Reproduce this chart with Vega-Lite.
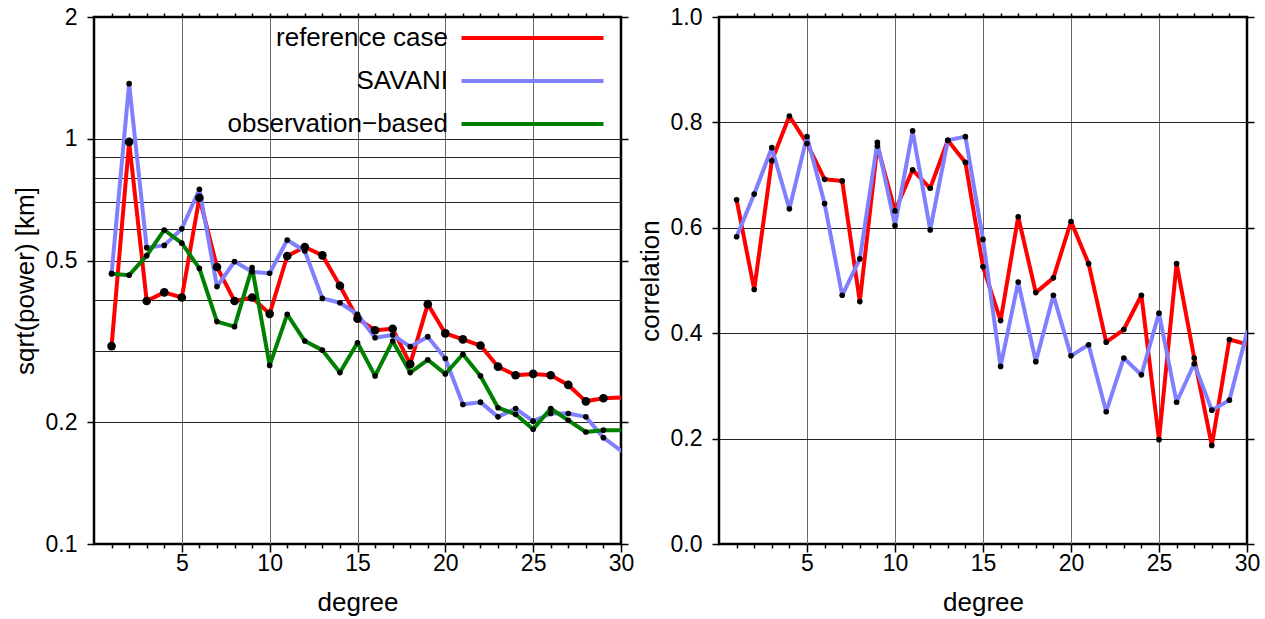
{
  "$schema": "https://vega.github.io/schema/vega-lite/v6.json",
  "padding": {"left": 10, "top": 4, "right": 5, "bottom": 5},
  "background": "white",
  "spacing": -1,
  "config": {
    "view": {"stroke": "black", "strokeWidth": 2.5},
    "axis": {
      "labelFont": "Liberation Sans", "labelFontSize": 23, "labelColor": "black",
      "titleFont": "Liberation Sans", "titleFontSize": 26, "titleFontWeight": "normal", "titleColor": "black",
      "domain": false, "tickColor": "black", "tickWidth": 1.5, "labelOverlap": false, "labelBound": false, "labelFlush": false
    }
  },
  "resolve": {"scale": {"color": "independent"}, "legend": {"color": "independent"}},
  "datasets": {
    "power": [
      {"degree": 1, "series": "reference case", "value": 0.308},
      {"degree": 2, "series": "reference case", "value": 0.983},
      {"degree": 3, "series": "reference case", "value": 0.398},
      {"degree": 4, "series": "reference case", "value": 0.418},
      {"degree": 5, "series": "reference case", "value": 0.406},
      {"degree": 6, "series": "reference case", "value": 0.716},
      {"degree": 7, "series": "reference case", "value": 0.483},
      {"degree": 8, "series": "reference case", "value": 0.398},
      {"degree": 9, "series": "reference case", "value": 0.406},
      {"degree": 10, "series": "reference case", "value": 0.370},
      {"degree": 11, "series": "reference case", "value": 0.514},
      {"degree": 12, "series": "reference case", "value": 0.541},
      {"degree": 13, "series": "reference case", "value": 0.516},
      {"degree": 14, "series": "reference case", "value": 0.434},
      {"degree": 15, "series": "reference case", "value": 0.360},
      {"degree": 16, "series": "reference case", "value": 0.337},
      {"degree": 17, "series": "reference case", "value": 0.340},
      {"degree": 18, "series": "reference case", "value": 0.278},
      {"degree": 19, "series": "reference case", "value": 0.391},
      {"degree": 20, "series": "reference case", "value": 0.331},
      {"degree": 21, "series": "reference case", "value": 0.320},
      {"degree": 22, "series": "reference case", "value": 0.309},
      {"degree": 23, "series": "reference case", "value": 0.274},
      {"degree": 24, "series": "reference case", "value": 0.261},
      {"degree": 25, "series": "reference case", "value": 0.263},
      {"degree": 26, "series": "reference case", "value": 0.261},
      {"degree": 27, "series": "reference case", "value": 0.247},
      {"degree": 28, "series": "reference case", "value": 0.225},
      {"degree": 29, "series": "reference case", "value": 0.229},
      {"degree": 30, "series": "reference case", "value": 0.230},
      {"degree": 1, "series": "SAVANI", "value": 0.465},
      {"degree": 2, "series": "SAVANI", "value": 1.369},
      {"degree": 3, "series": "SAVANI", "value": 0.539},
      {"degree": 4, "series": "SAVANI", "value": 0.546},
      {"degree": 5, "series": "SAVANI", "value": 0.600},
      {"degree": 6, "series": "SAVANI", "value": 0.751},
      {"degree": 7, "series": "SAVANI", "value": 0.432},
      {"degree": 8, "series": "SAVANI", "value": 0.498},
      {"degree": 9, "series": "SAVANI", "value": 0.470},
      {"degree": 10, "series": "SAVANI", "value": 0.466},
      {"degree": 11, "series": "SAVANI", "value": 0.563},
      {"degree": 12, "series": "SAVANI", "value": 0.529},
      {"degree": 13, "series": "SAVANI", "value": 0.404},
      {"degree": 14, "series": "SAVANI", "value": 0.394},
      {"degree": 15, "series": "SAVANI", "value": 0.369},
      {"degree": 16, "series": "SAVANI", "value": 0.323},
      {"degree": 17, "series": "SAVANI", "value": 0.328},
      {"degree": 18, "series": "SAVANI", "value": 0.307},
      {"degree": 19, "series": "SAVANI", "value": 0.325},
      {"degree": 20, "series": "SAVANI", "value": 0.287},
      {"degree": 21, "series": "SAVANI", "value": 0.221},
      {"degree": 22, "series": "SAVANI", "value": 0.224},
      {"degree": 23, "series": "SAVANI", "value": 0.206},
      {"degree": 24, "series": "SAVANI", "value": 0.216},
      {"degree": 25, "series": "SAVANI", "value": 0.201},
      {"degree": 26, "series": "SAVANI", "value": 0.210},
      {"degree": 27, "series": "SAVANI", "value": 0.210},
      {"degree": 28, "series": "SAVANI", "value": 0.206},
      {"degree": 29, "series": "SAVANI", "value": 0.183},
      {"degree": 30, "series": "SAVANI", "value": 0.170},
      {"degree": 1, "series": "observation−based", "value": 0.465},
      {"degree": 2, "series": "observation−based", "value": 0.461},
      {"degree": 3, "series": "observation−based", "value": 0.515},
      {"degree": 4, "series": "observation−based", "value": 0.596},
      {"degree": 5, "series": "observation−based", "value": 0.553},
      {"degree": 6, "series": "observation−based", "value": 0.479},
      {"degree": 7, "series": "observation−based", "value": 0.354},
      {"degree": 8, "series": "observation−based", "value": 0.344},
      {"degree": 9, "series": "observation−based", "value": 0.481},
      {"degree": 10, "series": "observation−based", "value": 0.276},
      {"degree": 11, "series": "observation−based", "value": 0.369},
      {"degree": 12, "series": "observation−based", "value": 0.317},
      {"degree": 13, "series": "observation−based", "value": 0.301},
      {"degree": 14, "series": "observation−based", "value": 0.265},
      {"degree": 15, "series": "observation−based", "value": 0.314},
      {"degree": 16, "series": "observation−based", "value": 0.260},
      {"degree": 17, "series": "observation−based", "value": 0.317},
      {"degree": 18, "series": "observation−based", "value": 0.265},
      {"degree": 19, "series": "observation−based", "value": 0.285},
      {"degree": 20, "series": "observation−based", "value": 0.263},
      {"degree": 21, "series": "observation−based", "value": 0.294},
      {"degree": 22, "series": "observation−based", "value": 0.260},
      {"degree": 23, "series": "observation−based", "value": 0.217},
      {"degree": 24, "series": "observation−based", "value": 0.209},
      {"degree": 25, "series": "observation−based", "value": 0.192},
      {"degree": 26, "series": "observation−based", "value": 0.216},
      {"degree": 27, "series": "observation−based", "value": 0.202},
      {"degree": 28, "series": "observation−based", "value": 0.189},
      {"degree": 29, "series": "observation−based", "value": 0.191},
      {"degree": 30, "series": "observation−based", "value": 0.191}
    ],
    "corr": [
      {"degree": 1, "series": "reference case", "value": 0.653},
      {"degree": 2, "series": "reference case", "value": 0.483},
      {"degree": 3, "series": "reference case", "value": 0.727},
      {"degree": 4, "series": "reference case", "value": 0.812},
      {"degree": 5, "series": "reference case", "value": 0.760},
      {"degree": 6, "series": "reference case", "value": 0.692},
      {"degree": 7, "series": "reference case", "value": 0.689},
      {"degree": 8, "series": "reference case", "value": 0.460},
      {"degree": 9, "series": "reference case", "value": 0.755},
      {"degree": 10, "series": "reference case", "value": 0.632},
      {"degree": 11, "series": "reference case", "value": 0.710},
      {"degree": 12, "series": "reference case", "value": 0.675},
      {"degree": 13, "series": "reference case", "value": 0.766},
      {"degree": 14, "series": "reference case", "value": 0.724},
      {"degree": 15, "series": "reference case", "value": 0.526},
      {"degree": 16, "series": "reference case", "value": 0.424},
      {"degree": 17, "series": "reference case", "value": 0.621},
      {"degree": 18, "series": "reference case", "value": 0.477},
      {"degree": 19, "series": "reference case", "value": 0.505},
      {"degree": 20, "series": "reference case", "value": 0.612},
      {"degree": 21, "series": "reference case", "value": 0.532},
      {"degree": 22, "series": "reference case", "value": 0.383},
      {"degree": 23, "series": "reference case", "value": 0.407},
      {"degree": 24, "series": "reference case", "value": 0.472},
      {"degree": 25, "series": "reference case", "value": 0.198},
      {"degree": 26, "series": "reference case", "value": 0.532},
      {"degree": 27, "series": "reference case", "value": 0.353},
      {"degree": 28, "series": "reference case", "value": 0.187},
      {"degree": 29, "series": "reference case", "value": 0.388},
      {"degree": 30, "series": "reference case", "value": 0.379},
      {"degree": 1, "series": "SAVANI", "value": 0.583},
      {"degree": 2, "series": "SAVANI", "value": 0.664},
      {"degree": 3, "series": "SAVANI", "value": 0.752},
      {"degree": 4, "series": "SAVANI", "value": 0.636},
      {"degree": 5, "series": "SAVANI", "value": 0.773},
      {"degree": 6, "series": "SAVANI", "value": 0.646},
      {"degree": 7, "series": "SAVANI", "value": 0.472},
      {"degree": 8, "series": "SAVANI", "value": 0.541},
      {"degree": 9, "series": "SAVANI", "value": 0.762},
      {"degree": 10, "series": "SAVANI", "value": 0.604},
      {"degree": 11, "series": "SAVANI", "value": 0.784},
      {"degree": 12, "series": "SAVANI", "value": 0.596},
      {"degree": 13, "series": "SAVANI", "value": 0.766},
      {"degree": 14, "series": "SAVANI", "value": 0.773},
      {"degree": 15, "series": "SAVANI", "value": 0.578},
      {"degree": 16, "series": "SAVANI", "value": 0.337},
      {"degree": 17, "series": "SAVANI", "value": 0.497},
      {"degree": 18, "series": "SAVANI", "value": 0.346},
      {"degree": 19, "series": "SAVANI", "value": 0.472},
      {"degree": 20, "series": "SAVANI", "value": 0.357},
      {"degree": 21, "series": "SAVANI", "value": 0.378},
      {"degree": 22, "series": "SAVANI", "value": 0.251},
      {"degree": 23, "series": "SAVANI", "value": 0.353},
      {"degree": 24, "series": "SAVANI", "value": 0.321},
      {"degree": 25, "series": "SAVANI", "value": 0.438},
      {"degree": 26, "series": "SAVANI", "value": 0.269},
      {"degree": 27, "series": "SAVANI", "value": 0.342},
      {"degree": 28, "series": "SAVANI", "value": 0.254},
      {"degree": 29, "series": "SAVANI", "value": 0.273},
      {"degree": 30, "series": "SAVANI", "value": 0.402}
    ]
  },
  "hconcat": [
    {
      "width": 527, "height": 527,
      "data": {"name": "power"},
      "layer": [
        {
          "mark": {"type": "line", "strokeWidth": 4, "clip": true, "strokeJoin": "round", "strokeCap": "round"},
          "encoding": {
            "x": {"field": "degree", "type": "quantitative", "scale": {"domain": [0, 30], "nice": false},
              "axis": {"orient": "bottom", "title": "degree", "titlePadding": 14,
                "values": [1,2,3,4,5,6,7,8,9,10,11,12,13,14,15,16,17,18,19,20,21,22,23,24,25,26,27,28,29,30],
                "labelExpr": "datum.value % 5 === 0 ? datum.label : ''", "labelPadding": 0,
                "tickSize": {"condition": {"test": "datum.value % 5 === 0", "value": 8}, "value": 4},
                "grid": true, "gridColor": "#666", "gridWidth": 1,
                "gridOpacity": {"condition": {"test": "datum.value % 5 === 0 && datum.value < 30", "value": 1}, "value": 0}}},
            "y": {"field": "value", "type": "quantitative", "scale": {"type": "log", "domain": [0.1, 2], "nice": false},
              "axis": {"orient": "left", "title": "sqrt(power) [km]", "titlePadding": 7,
                "values": [0.1, 0.2, 0.3, 0.4, 0.5, 0.6, 0.7, 0.8, 0.9, 1, 2],
                "labelExpr": "indexof([0.1, 0.2, 0.5, 1, 2], datum.value) >= 0 ? format(datum.value, '~g') : ''",
                "labelPadding": 10, "tickSize": 7,
                "tickOpacity": {"condition": {"test": "indexof([0.1, 0.2, 0.5, 1, 2], datum.value) >= 0", "value": 1}, "value": 0},
                "grid": true, "gridColor": "#222", "gridWidth": 1,
                "gridOpacity": {"condition": {"test": "datum.value > 0.15 && datum.value < 1.05", "value": 1}, "value": 0}}},
            "color": {"field": "series", "type": "nominal",
              "scale": {"domain": ["reference case", "SAVANI", "observation−based"], "range": ["#ff0000", "#8080ff", "#008000"]},
              "legend": {"orient": "none", "legendX": 425.5, "legendY": 8, "title": null,
                "symbolType": "M-10,0H10", "symbolSize": 201.6, "symbolStrokeWidth": 4,
                "labelAlign": "right", "labelOffset": -97.5, "labelFont": "Liberation Sans", "labelFontSize": 26,
                "labelColor": "black", "labelLimit": 0, "rowPadding": 17}}
          }
        },
        {
          "transform": [{"filter": "datum.degree < 30"}],
          "mark": {"type": "point", "filled": true, "color": "black", "opacity": 1},
          "encoding": {
            "x": {"field": "degree", "type": "quantitative",
              "axis": {"orient": "top", "title": null, "labels": false, "grid": false, "tickSize": 4,
                "values": [1,2,3,4,5,6,7,8,9,10,11,12,13,14,15,16,17,18,19,20,21,22,23,24,25,26,27,28,29]}},
            "y": {"field": "value", "type": "quantitative",
              "axis": {"orient": "right", "title": null, "labels": false, "grid": false, "tickSize": 7,
                "values": [0.1, 0.2, 0.5, 1, 2]}},
            "size": {"condition": {"test": "datum.series === 'reference case'", "value": 75}, "value": 32}
          }
        }
      ],
      "resolve": {"axis": {"x": "independent", "y": "independent"}}
    },
    {
      "width": 528, "height": 527,
      "data": {"name": "corr"},
      "layer": [
        {
          "mark": {"type": "line", "strokeWidth": 4, "clip": true, "strokeJoin": "round", "strokeCap": "round"},
          "encoding": {
            "x": {"field": "degree", "type": "quantitative", "scale": {"domain": [0, 30], "nice": false},
              "axis": {"orient": "bottom", "title": "degree", "titlePadding": 14,
                "values": [1,2,3,4,5,6,7,8,9,10,11,12,13,14,15,16,17,18,19,20,21,22,23,24,25,26,27,28,29,30],
                "labelExpr": "datum.value % 5 === 0 ? datum.label : ''", "labelPadding": 0,
                "tickSize": {"condition": {"test": "datum.value % 5 === 0", "value": 8}, "value": 4},
                "grid": true, "gridColor": "#666", "gridWidth": 1,
                "gridOpacity": {"condition": {"test": "datum.value % 5 === 0 && datum.value < 30", "value": 1}, "value": 0}}},
            "y": {"field": "value", "type": "quantitative", "scale": {"domain": [0, 1], "nice": false},
              "axis": {"orient": "left", "title": "correlation", "titlePadding": 7,
                "values": [0, 0.2, 0.4, 0.6, 0.8, 1], "format": ".1f",
                "labelPadding": 10, "tickSize": 7,
                "grid": true, "gridColor": "#222", "gridWidth": 1,
                "gridOpacity": {"condition": {"test": "datum.value > 0.1 && datum.value < 0.9", "value": 1}, "value": 0}}},
            "color": {"field": "series", "type": "nominal",
              "scale": {"domain": ["reference case", "SAVANI"], "range": ["#ff0000", "#8080ff"]},
              "legend": null}
          }
        },
        {
          "transform": [{"filter": "datum.degree < 30"}],
          "mark": {"type": "point", "filled": true, "color": "black", "opacity": 1, "size": 32},
          "encoding": {
            "x": {"field": "degree", "type": "quantitative",
              "axis": {"orient": "top", "title": null, "labels": false, "grid": false, "tickSize": 4,
                "values": [1,2,3,4,5,6,7,8,9,10,11,12,13,14,15,16,17,18,19,20,21,22,23,24,25,26,27,28,29]}},
            "y": {"field": "value", "type": "quantitative",
              "axis": {"orient": "right", "title": null, "labels": false, "grid": false, "tickSize": 7,
                "values": [0, 0.2, 0.4, 0.6, 0.8, 1]}}
          }
        }
      ],
      "resolve": {"axis": {"x": "independent", "y": "independent"}}
    }
  ]
}
